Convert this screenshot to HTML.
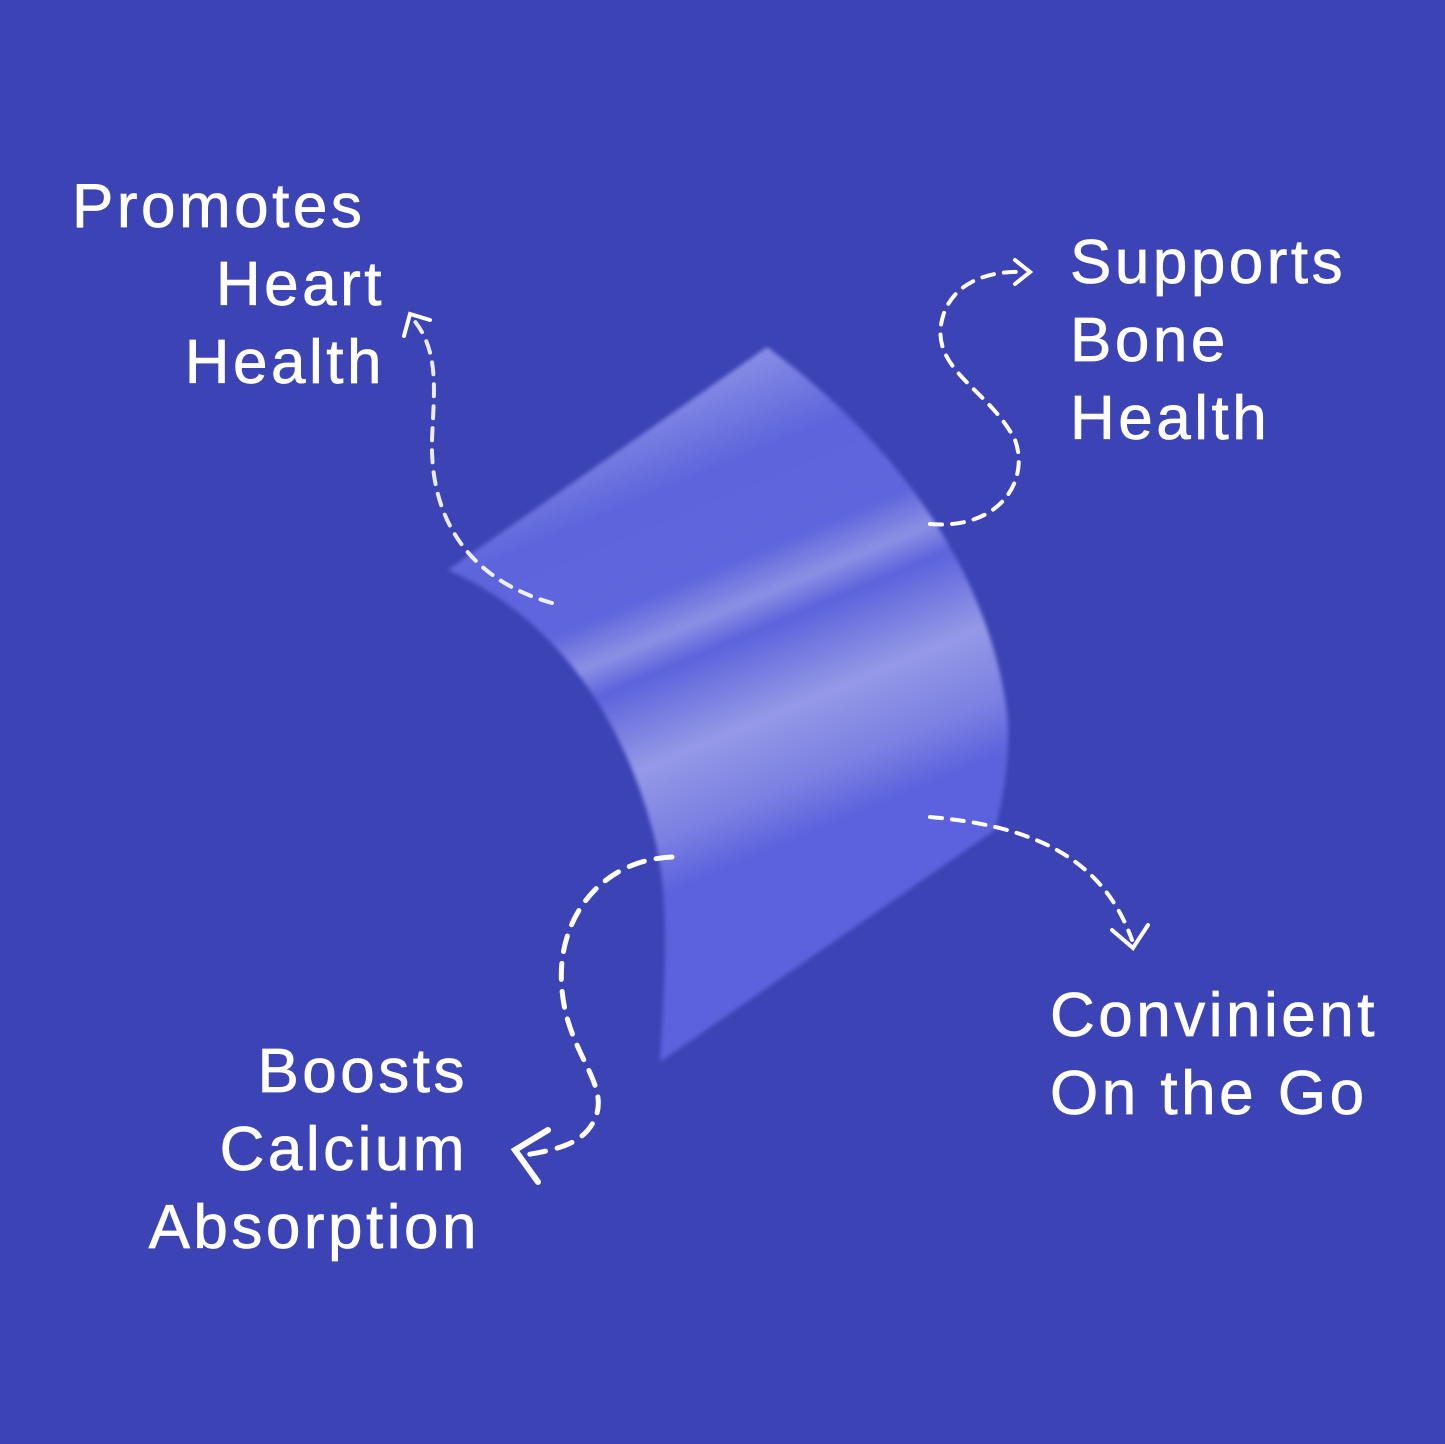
<!DOCTYPE html>
<html><head><style>
body{margin:0;width:1445px;height:1444px;background:#3b43b5;overflow:hidden;position:relative;font-family:"Liberation Sans",sans-serif;color:#fff}
.t{position:absolute;font-size:62px;line-height:78px;white-space:nowrap;letter-spacing:3.5px;-webkit-text-stroke:0.7px #fff}
</style></head><body>
<svg width="1445" height="1444" style="position:absolute;left:0;top:0">
<defs>
<linearGradient id="g" x1="560" y1="420" x2="760" y2="900" gradientUnits="userSpaceOnUse">
<stop offset="0" stop-color="#8d93e6"/>
<stop offset="0.2" stop-color="#5d65dc"/>
<stop offset="0.38" stop-color="#5f66dd"/>
<stop offset="0.46" stop-color="#8b90e4"/>
<stop offset="0.52" stop-color="#5c63dc"/>
<stop offset="0.68" stop-color="#9599e6"/>
<stop offset="0.82" stop-color="#7b80e2"/>
<stop offset="0.92" stop-color="#5b62dd"/>
<stop offset="1" stop-color="#5b62dd"/>
</linearGradient>
<filter id="b"><feGaussianBlur stdDeviation="2"/></filter>
</defs>
<path d="M448 570 L767 347 C880 430 990 560 1008 720 C1010 770 1000 810 995 830 L660 1062 C665 980 670 900 655 840 C620 700 540 610 448 570 Z" fill="url(#g)" filter="url(#b)"/>
<g fill="none" stroke="#fff" stroke-width="4" stroke-dasharray="12 10" stroke-linecap="round">
<path d="M552 603 C470 580 430 520 432 440 C434 390 440 350 412 318" stroke-opacity="0.9"/>
<path d="M930 524 C1000 530 1030 480 1015 440 C990 390 930 370 942 320 C950 285 985 270 1025 272"/>
<path d="M930 817 C1020 825 1100 850 1132 940"/>
<path d="M672 857 C600 860 555 920 562 990 C568 1060 620 1090 588 1130 C575 1145 555 1150 525 1155" stroke-width="5" stroke-dasharray="16 12"/>
</g>
<g fill="none" stroke="#fff" stroke-width="4" stroke-linecap="round">
<path d="M404 336 L410 314 L430 320"/>
<path d="M1015 260 L1030 272 L1015 284"/>
<path d="M1112 930 L1133 948 L1148 925"/>
<path d="M548 1130 L515 1150 L538 1182" stroke-width="6"/>
</g>
</svg>
<div class="t" style="left:72px;top:168px">Promotes</div>
<div class="t" style="right:1060px;top:246px;text-align:right">Heart<br>Health</div>
<div class="t" style="left:1070px;top:224px">Supports<br>Bone<br>Health</div>
<div class="t" style="left:1050px;top:977px">Convinient<br>On the Go</div>
<div class="t" style="right:977px;top:1033px;text-align:right">Boosts<br>Calcium</div>
<div class="t" style="right:965px;top:1189px;text-align:right">Absorption</div>
</body></html>
